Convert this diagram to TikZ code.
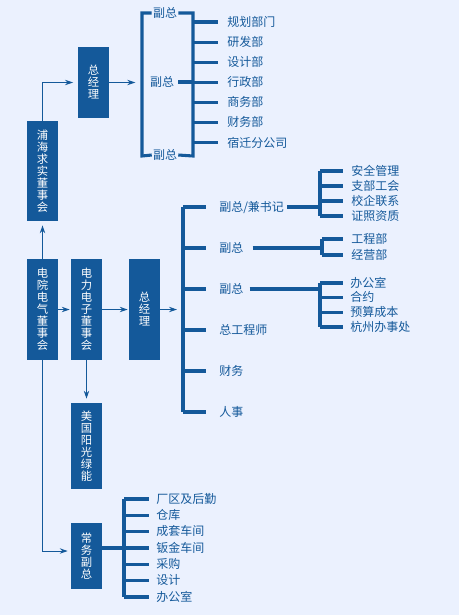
\documentclass[tikz,border=0pt]{standalone}
\usepackage{fontspec}
\newfontfamily\cjk{Noto Sans CJK SC}
\usetikzlibrary{arrows.meta}

\definecolor{pagebg}{HTML}{EBF1FE}
\definecolor{orgblue}{HTML}{14599A}

\tikzset{
  board/.style={fill=orgblue, text=white, inner sep=0pt, minimum width=23.25pt,
    align=center, font=\cjk\fontsize{8.5}{9}\selectfont},
  unit/.style={text=orgblue, anchor=west, inner sep=0pt, text height=7.6pt,
    text depth=1.4pt, font=\cjk\fontsize{9}{9}\selectfont},
  bar/.style={orgblue, line width=2.3pt},
  link/.style={orgblue, line width=0.75pt, ->},
}

\begin{document}
\begin{tikzpicture}[x=0.75pt, y=-0.75pt, >={Stealth[length=6pt,width=4pt]}]
  \useasboundingbox [fill=pagebg] (0,0) rectangle (459,615);

  % boards
  \node [board, minimum height=75pt]    (puhai)  at (42.5,171)  {浦\\海\\求\\实\\董\\事\\会};
  \node [board, minimum height=53.25pt] (gmtop)  at (93.5,82.5) {总\\经\\理};
  \node [board, minimum height=75.75pt] (dianyuan) at (42.5,309.5) {电\\院\\电\\气\\董\\事\\会};
  \node [board, minimum height=75.75pt] (dianli) at (86.5,309.5) {电\\力\\电\\子\\董\\事\\会};
  \node [board, minimum height=75.75pt] (gmmid)  at (144.5,309.5) {总\\经\\理};
  \node [board, minimum height=64.5pt]  (sunny)  at (86.5,446)  {美\\国\\阳\\光\\绿\\能};
  \node [board, minimum height=49.5pt]  (execvp) at (86.5,556)  {常\\务\\副\\总};

  \draw [link, shorten >=3.5pt] (puhai.north) |- (gmtop.west);
  \draw [link, shorten >=3pt] (dianyuan.north) -- (puhai.south);
  \draw [link, shorten >=0.75pt] (dianyuan.east) -- (dianli.west);
  \draw [link, shorten >=0.75pt] (dianli.east) -- (gmmid.west);
  \draw [link, shorten >=3pt] (dianli.south) -- (sunny.north);
  \draw [link, shorten >=2.25pt] (dianyuan.south) |- ([yshift=3.75pt]execvp.west);

  % top group
  \node [unit, anchor=center] (vpa) at (165,13)  {副总};
  \node [unit, anchor=center] (vpb) at (162,82)  {副总};
  \node [unit, anchor=center] (vpc) at (165,155) {副总};
  \coordinate (bl) at (142,156);
  \coordinate (br) at (193,156);
  \draw [bar] ([xshift=-0.75pt]vpa.west) -| (bl) -- ([xshift=-0.75pt]vpc.west);
  \draw [bar] ([xshift=0.75pt]vpa.east) -| (br) -- ([xshift=0.75pt]vpc.east);
  \draw [bar] ([xshift=3pt]vpb.east) -- (vpb.east -| br);
  \draw [link, shorten >=5pt] (gmtop.east) -- (gmtop.east -| bl);

  \foreach \name [count=\i] in {规划部门,研发部,设计部,行政部,商务部,财务部,宿迁分公司} {
    \node [unit] (dept\i) at (227, {22+20.15*(\i-1)}) {\name};
    \draw [bar] (dept\i.west -| br) -- ([xshift=-6.75pt]dept\i.west);
  }

  % right group
  \coordinate (spine) at (183,0);
  \foreach \name [count=\i] in {副总/兼书记,副总,副总,总工程师,财务,人事} {
    \node [unit] (vp\i) at (219, {207+41*(\i-1)}) {\name};
    \draw [bar] (vp\i.west -| spine) -- ([xshift=-9.75pt]vp\i.west);
  }
  \draw [bar] (vp1.west -| spine) -- (vp6.west -| spine);
  \draw [link, shorten >=4.5pt] (gmmid.east) -- (gmmid.east -| spine);

  \coordinate (secbar) at (320,0);
  \foreach \name [count=\i] in {安全管理,支部工会,校企联系,证照资质} {
    \node [unit] (sec\i) at (351, {171+15*(\i-1)}) {\name};
    \draw [bar] (sec\i.west -| secbar) -- ([xshift=-6pt]sec\i.west);
  }
  \draw [bar] (sec1.west -| secbar) -- (sec4.west -| secbar);
  \draw [bar] ([xshift=2.25pt]vp1.east) -- (vp1.east -| secbar);

  \coordinate (engbar) at (322,0);
  \foreach \name [count=\i] in {工程部,经营部} {
    \node [unit] (eng\i) at (351, {239+16*(\i-1)}) {\name};
    \draw [bar] (eng\i.west -| engbar) -- ([xshift=-6pt]eng\i.west);
  }
  \draw [bar] (eng1.west -| engbar) -- (eng2.west -| engbar);
  \draw [bar] ([xshift=6.75pt]vp2.east) -- (vp2.east -| engbar);

  \coordinate (offbar) at (320,0);
  \foreach \name [count=\i] in {办公室,合约,预算成本,杭州办事处} {
    \node [unit] (off\i) at (350, {283+14.67*(\i-1)}) {\name};
    \draw [bar] (off\i.west -| offbar) -- ([xshift=-5.25pt]off\i.west);
  }
  \draw [bar] (off1.west -| offbar) -- (off4.west -| offbar);
  \draw [bar] ([xshift=4.5pt]vp3.east) -- (vp3.east -| offbar);

  % bottom group
  \coordinate (wsbar) at (124,0);
  \foreach \name [count=\i] in {厂区及后勤,仓库,成套车间,钣金车间,采购,设计,办公室} {
    \node [unit] (ws\i) at (156, {499+16.33*(\i-1)}) {\name};
    \draw [bar] (ws\i.west -| wsbar) -- ([xshift=-5.25pt]ws\i.west);
  }
  \draw [bar] (ws1.west -| wsbar) -- (ws7.west -| wsbar);
  \draw [bar] (execvp.east |- ws4.west) -- (ws4.west -| wsbar);
\end{tikzpicture}
\end{document}
